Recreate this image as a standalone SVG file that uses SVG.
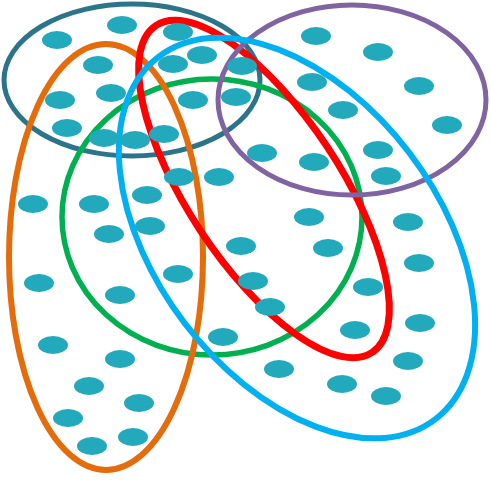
<svg xmlns="http://www.w3.org/2000/svg" width="491" height="480" viewBox="0 0 491 480">
<style>
.set{fill:none}
.dot{fill:#22a9bc}
</style>
<rect width="491" height="480" fill="#ffffff"/>
<g id="sets">
<ellipse id="teal" class="set" cx="132" cy="80" rx="128" ry="76" stroke="#2c7489" stroke-width="5"/>
<ellipse id="green" class="set" cx="212" cy="217" rx="150" ry="138" stroke="#00b050" stroke-width="5.5"/>
<ellipse id="orange" class="set" cx="106" cy="257" rx="97" ry="213" stroke="#e46c0a" stroke-width="6"/>
<ellipse id="red" class="set" cx="264" cy="189" rx="196" ry="76" transform="rotate(56.5 264 189)" stroke="#ff0000" stroke-width="7"/>
<ellipse id="purple" class="set" cx="352" cy="100" rx="134" ry="95" stroke="#8064a2" stroke-width="5"/>
<ellipse id="blue" class="set" cx="297" cy="238" rx="228" ry="141" transform="rotate(52.6 297 238)" stroke="#00b0f0" stroke-width="6"/>
</g>
<g id="dots">
<ellipse class="dot" cx="57" cy="40" rx="15" ry="9"/>
<ellipse class="dot" cx="122" cy="25" rx="15" ry="9"/>
<ellipse class="dot" cx="178" cy="32" rx="15" ry="9"/>
<ellipse class="dot" cx="202" cy="55" rx="15" ry="9"/>
<ellipse class="dot" cx="98" cy="65" rx="15" ry="9"/>
<ellipse class="dot" cx="173" cy="64" rx="15" ry="9"/>
<ellipse class="dot" cx="242" cy="66" rx="15" ry="9"/>
<ellipse class="dot" cx="60" cy="100" rx="15" ry="9"/>
<ellipse class="dot" cx="111" cy="93" rx="15" ry="9"/>
<ellipse class="dot" cx="193" cy="100" rx="15" ry="9"/>
<ellipse class="dot" cx="236" cy="97" rx="15" ry="9"/>
<ellipse class="dot" cx="67" cy="128" rx="15" ry="9"/>
<ellipse class="dot" cx="104" cy="138" rx="15" ry="9"/>
<ellipse class="dot" cx="135" cy="140" rx="15" ry="9"/>
<ellipse class="dot" cx="164" cy="134" rx="15" ry="9"/>
<ellipse class="dot" cx="316" cy="36" rx="15" ry="9"/>
<ellipse class="dot" cx="378" cy="52" rx="15" ry="9"/>
<ellipse class="dot" cx="312" cy="82" rx="15" ry="9"/>
<ellipse class="dot" cx="419" cy="86" rx="15" ry="9"/>
<ellipse class="dot" cx="343" cy="110" rx="15" ry="9"/>
<ellipse class="dot" cx="447" cy="125" rx="15" ry="9"/>
<ellipse class="dot" cx="378" cy="150" rx="15" ry="9"/>
<ellipse class="dot" cx="262" cy="153" rx="15" ry="9"/>
<ellipse class="dot" cx="314" cy="162" rx="15" ry="9"/>
<ellipse class="dot" cx="179" cy="177" rx="15" ry="9"/>
<ellipse class="dot" cx="219" cy="177" rx="15" ry="9"/>
<ellipse class="dot" cx="386" cy="176" rx="15" ry="9"/>
<ellipse class="dot" cx="33" cy="204" rx="15" ry="9"/>
<ellipse class="dot" cx="94" cy="204" rx="15" ry="9"/>
<ellipse class="dot" cx="147" cy="195" rx="15" ry="9"/>
<ellipse class="dot" cx="150" cy="226" rx="15" ry="9"/>
<ellipse class="dot" cx="109" cy="234" rx="15" ry="9"/>
<ellipse class="dot" cx="309" cy="217" rx="15" ry="9"/>
<ellipse class="dot" cx="408" cy="222" rx="15" ry="9"/>
<ellipse class="dot" cx="241" cy="246" rx="15" ry="9"/>
<ellipse class="dot" cx="328" cy="248" rx="15" ry="9"/>
<ellipse class="dot" cx="419" cy="263" rx="15" ry="9"/>
<ellipse class="dot" cx="178" cy="274" rx="15" ry="9"/>
<ellipse class="dot" cx="253" cy="281" rx="15" ry="9"/>
<ellipse class="dot" cx="39" cy="283" rx="15" ry="9"/>
<ellipse class="dot" cx="120" cy="295" rx="15" ry="9"/>
<ellipse class="dot" cx="368" cy="287" rx="15" ry="9"/>
<ellipse class="dot" cx="270" cy="307" rx="15" ry="9"/>
<ellipse class="dot" cx="420" cy="323" rx="15" ry="9"/>
<ellipse class="dot" cx="355" cy="330" rx="15" ry="9"/>
<ellipse class="dot" cx="223" cy="337" rx="15" ry="9"/>
<ellipse class="dot" cx="53" cy="345" rx="15" ry="9"/>
<ellipse class="dot" cx="120" cy="359" rx="15" ry="9"/>
<ellipse class="dot" cx="408" cy="361" rx="15" ry="9"/>
<ellipse class="dot" cx="279" cy="369" rx="15" ry="9"/>
<ellipse class="dot" cx="342" cy="384" rx="15" ry="9"/>
<ellipse class="dot" cx="89" cy="386" rx="15" ry="9"/>
<ellipse class="dot" cx="386" cy="396" rx="15" ry="9"/>
<ellipse class="dot" cx="139" cy="403" rx="15" ry="9"/>
<ellipse class="dot" cx="68" cy="418" rx="15" ry="9"/>
<ellipse class="dot" cx="133" cy="437" rx="15" ry="9"/>
<ellipse class="dot" cx="92" cy="446" rx="15" ry="9"/>
</g>
</svg>
